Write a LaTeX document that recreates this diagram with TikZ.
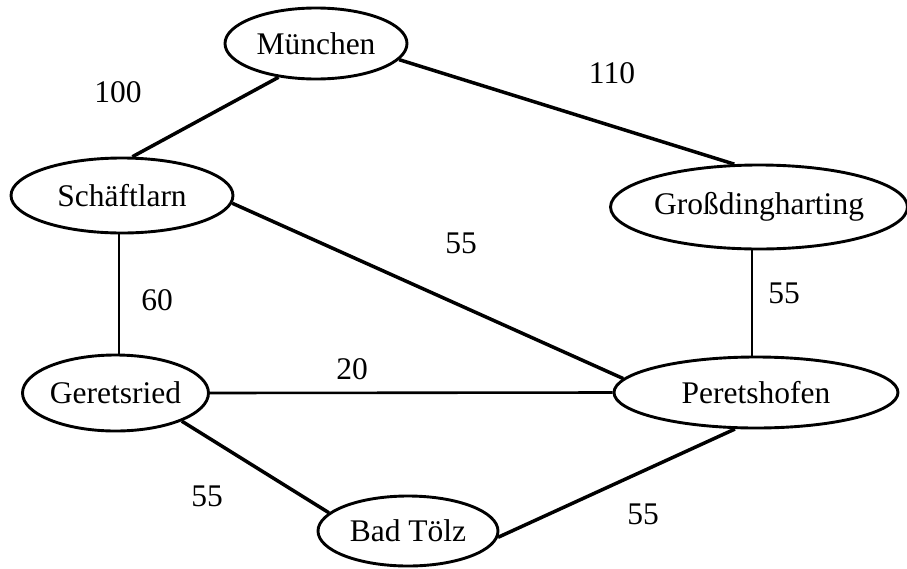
\documentclass[tikz,border=0pt]{standalone}
\usepackage{fontspec}
\setmainfont{Liberation Serif}
\usetikzlibrary{shapes.geometric}
\begin{document}
\begin{tikzpicture}[x=1pt,y=-1pt,
  city/.style={draw, ellipse, line width=2.9pt, inner sep=0pt, font=\fontsize{31.5}{36}\selectfont},
  road/.style={line width=3.5pt},
  straight/.style={line width=2.6pt},
  lbl/.style={font=\fontsize{31.5}{36}\selectfont, inner sep=0pt}]
\useasboundingbox (0,0) rectangle (907,568);
\node[city, minimum width=182pt, minimum height=71pt] (m) at (316,43.5) {München};
\node[city, minimum width=222pt, minimum height=75pt] (s) at (122,195.5) {Schäftlarn};
\node[city, minimum width=294pt, minimum height=84pt] (gd) at (759,207) {Großdingharting};
\node[city, minimum width=186pt, minimum height=76pt] (g) at (115.5,393) {Geretsried};
\node[city, minimum width=284pt, minimum height=71pt] (p) at (756,392.5) {Peretshofen};
\node[city, minimum width=180pt, minimum height=70pt] (b) at (408,531) {Bad Tölz};

\draw[road] (m.222) -- (s.75);
\draw[road] (m.349) -- (gd.120);
\draw[road] (s.356) -- (p.174);
\draw[straight] (s.south -| 119,0) -- (g.north -| 119,0);
\draw[straight] (gd.south -| 752,0) -- (p.north -| 752,0);
\draw[straight] (g.east) -- (p.west);
\draw[road] (g.337) -- (b.167);
\draw[road] (p.240) -- (b.356);

\node[lbl] (l1) at (118,92) {100};
\node[lbl] (l2) at (612,73) {110};
\node[lbl] (l3) at (461,243) {55};
\node[lbl] (l4) at (157,300) {60};
\node[lbl] (l5) at (784,293) {55};
\node[lbl] (l6) at (352,369) {20};
\node[lbl] (l7) at (207,496) {55};
\node[lbl] (l8) at (643,514) {55};
\end{tikzpicture}
\end{document}
